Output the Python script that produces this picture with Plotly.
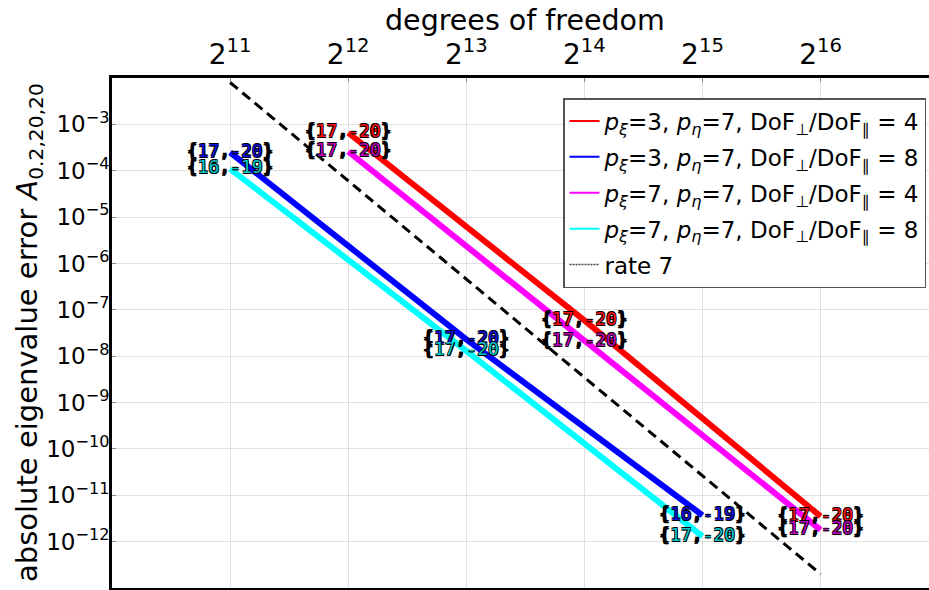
import plotly.graph_objects as go

# ---------------- data ----------------
dof_a = [4096, 16384, 65536]          # series with DoF_perp/DoF_par = 4
dof_b = [2048, 8192, 32768]           # series with DoF_perp/DoF_par = 8

err_red = [6.6e-4, 5.9e-8, 3.5e-12]
err_blue = [2.5e-4, 2.3e-8, 3.7e-12]
err_magenta = [2.6e-4, 2.1e-8, 1.8e-12]
err_cyan = [1.1e-4, 1.3e-8, 1.3e-12]

lab_red = [(17, -20), (17, -20), (17, -20)]
lab_blue = [(17, -20), (17, -20), (16, -19)]
lab_magenta = [(17, -20), (17, -20), (17, -20)]
lab_cyan = [(16, -19), (17, -20), (17, -20)]

rate_dof = [2048, 65536]
rate_err = [8.0e-3, 2.0e-13]

x_tick_exp = [11, 12, 13, 14, 15, 16]
y_tick_exp = [-3, -4, -5, -6, -7, -8, -9, -10, -11, -12]

names = [
    "<i>p</i><sub><i>ξ</i></sub>=3, <i>p</i><sub><i>η</i></sub>=7, DoF<sub>⊥</sub>/DoF<sub>∥</sub> = 4",
    "<i>p</i><sub><i>ξ</i></sub>=3, <i>p</i><sub><i>η</i></sub>=7, DoF<sub>⊥</sub>/DoF<sub>∥</sub> = 8",
    "<i>p</i><sub><i>ξ</i></sub>=7, <i>p</i><sub><i>η</i></sub>=7, DoF<sub>⊥</sub>/DoF<sub>∥</sub> = 4",
    "<i>p</i><sub><i>ξ</i></sub>=7, <i>p</i><sub><i>η</i></sub>=7, DoF<sub>⊥</sub>/DoF<sub>∥</sub> = 8",
]
x_title = "degrees of freedom"
y_title = "absolute eigenvalue error <i>A</i><sub>0.2,20,20</sub>"

# ---------------- styles ----------------
FONT = "DejaVu Sans"
series = [
    (dof_a, err_red, lab_red, "#ff0000", "#ff1010"),
    (dof_b, err_blue, lab_blue, "#0000ff", "#1010e0"),
    (dof_a, err_magenta, lab_magenta, "#ff00ff", "#c000c0"),
    (dof_b, err_cyan, lab_cyan, "#00ffff", "#00c8c8"),
]

OUTLINE = ("0.8px 0.8px 0 #000, -0.8px -0.8px 0 #000, "
           "0.8px -0.8px 0 #000, -0.8px 0.8px 0 #000")


def fmt(lbl, col):
    a, b = lbl
    return ("{" + f"<span style='color:{col}'>{a}</span>" + ","
            + f"<span style='color:{col}'>{b}</span>" + "}")


fig = go.Figure()

# thick data lines
for i, (xs, ys, labs, col, tcol) in enumerate(series):
    fig.add_trace(go.Scatter(x=xs, y=ys, mode="lines",
                             line=dict(color=col, width=6),
                             legendgroup=f"g{i}", showlegend=False))

# rate line
fig.add_trace(go.Scatter(x=rate_dof, y=rate_err, mode="lines",
                         line=dict(color="black", width=3, dash="10px,6px"),
                         legendgroup="g4", showlegend=False))

# point labels
for i, (xs, ys, labs, col, tcol) in enumerate(series):
    fig.add_trace(go.Scatter(x=xs, y=ys, mode="text",
                             text=[fmt(l, tcol) for l in labs],
                             textposition="middle center",
                             textfont=dict(family="DejaVu Sans Mono", size=18, color="black",
                                           shadow=OUTLINE),
                             legendgroup=f"g{i}", showlegend=False, hoverinfo="skip"))

# legend entries (thin samples)
for i, (xs, ys, labs, col, tcol) in enumerate(series):
    fig.add_trace(go.Scatter(x=[None], y=[None], mode="lines", name=names[i],
                             line=dict(color=col, width=2), legendgroup=f"g{i}"))
fig.add_trace(go.Scatter(x=[None], y=[None], mode="lines", name="rate 7",
                         line=dict(color="#444", width=1.5, dash="2px,1px"),
                         legendgroup="g4"))

W, H = 929, 590
L, R, T, B = 112, 0, 78, 2
PW, PH = W - L - R, H - T - B
fig.update_layout(
    width=W, height=H,
    margin=dict(l=L, r=R, t=T, b=B, autoexpand=False),
    plot_bgcolor="white", paper_bgcolor="white",
    font=dict(family=FONT, size=22, color="black"),
    legend=dict(x=(563 - L) / PW, y=(H - B - 98) / PH,
                xanchor="left", yanchor="top",
                bgcolor="white", bordercolor="#555", borderwidth=1.5,
                font=dict(family=FONT, size=23),
                traceorder="grouped", tracegroupgap=3, itemwidth=30),
    xaxis=dict(type="log", side="top",
               range=[10 * 0.30103, 16.918 * 0.30103],
               tickvals=[2 ** e for e in x_tick_exp],
               ticktext=[f"2<sup>{e}</sup>" for e in x_tick_exp],
               tickfont=dict(size=28),
               showgrid=True, gridcolor="#e0e0e0", gridwidth=1,
               showline=True, linecolor="black", linewidth=3, mirror=True,
               ticks="inside", ticklen=4, tickcolor="#888",
               zeroline=False, automargin=False),
    yaxis=dict(type="log", range=[-13, -2],
               tickvals=[10.0 ** e for e in y_tick_exp],
               ticktext=[f"10<sup>−{-e}</sup>" for e in y_tick_exp],
               tickfont=dict(size=23), ticklabelstandoff=-5,
               showgrid=True, gridcolor="#e0e0e0", gridwidth=1,
               showline=True, linecolor="black", linewidth=3, mirror=False,
               ticks="inside", ticklen=4, tickcolor="#888",
               zeroline=False, automargin=False),
    annotations=[
        dict(text=x_title, xref="paper", yref="paper",
             x=(525 - L) / PW, y=(H - B - 21) / PH,
             xanchor="center", yanchor="middle", showarrow=False,
             font=dict(size=28.5)),
        dict(text=y_title, xref="paper", yref="paper",
             x=(29 - L) / PW, y=(H - B - 333) / PH, textangle=-90,
             xanchor="center", yanchor="middle", showarrow=False,
             font=dict(size=29)),
    ],
)

fig.write_html("out.html")
